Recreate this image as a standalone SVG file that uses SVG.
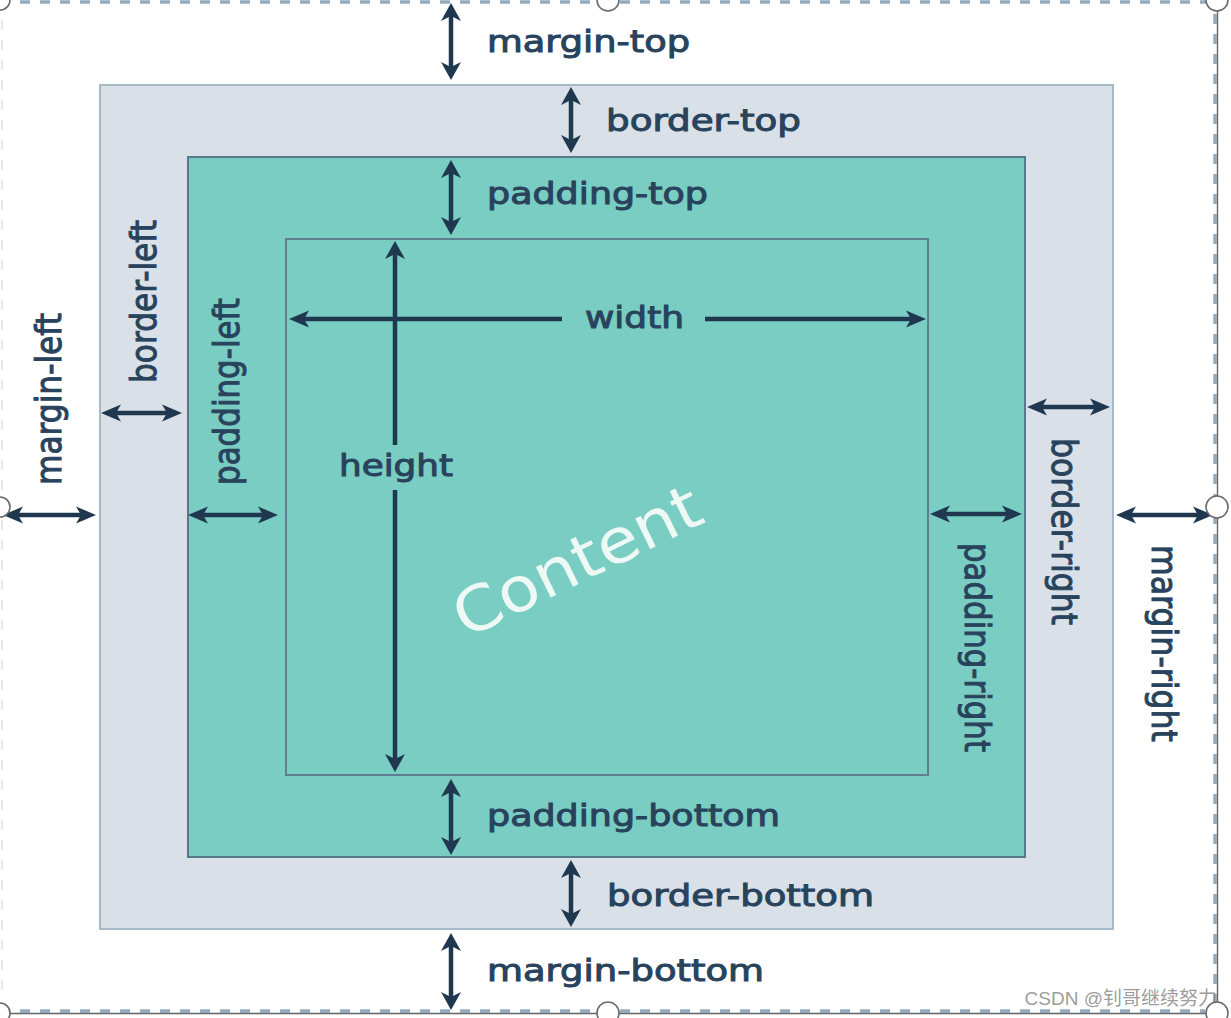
<svg xmlns="http://www.w3.org/2000/svg" width="1231" height="1018" viewBox="0 0 1231 1018">
<defs>
<style>
.lbl{font-family:"DejaVu Sans","Verdana",sans-serif;font-size:30px;fill:#29435c;stroke:#29435c;stroke-width:1px}
.vl{font-family:"DejaVu Sans","Verdana",sans-serif;font-size:35px;fill:#29435c;stroke:#29435c;stroke-width:1px}
.arr{stroke:#1f3850;stroke-width:4.5;fill:none}
.h{marker-start:url(#mh);marker-end:url(#mh)}
.v{marker-start:url(#mv);marker-end:url(#mv)}
.he{marker-end:url(#mh)}
.ve{marker-end:url(#mv)}
.handle{fill:#fff;stroke:#6a6a6a;stroke-width:1.6}
</style>
<marker id="mh" markerUnits="userSpaceOnUse" viewBox="-12 -10 24 20" markerWidth="24" markerHeight="20" refX="0" refY="0" orient="auto-start-reverse">
<path d="M10,0 L-10,-8.5 L-5,0 L-10,8.5 Z" fill="#1f3850"/>
</marker>
<marker id="mv" markerUnits="userSpaceOnUse" viewBox="-12 -12 24 24" markerWidth="24" markerHeight="24" refX="0" refY="0" orient="auto-start-reverse">
<path d="M9,0 L-9,-10 L-4,0 L-9,10 Z" fill="#1f3850"/>
</marker>
</defs>
<rect width="1231" height="1018" fill="#fff"/>

<g id="selection-frame">
<line x1="20" y1="2" x2="1212" y2="2" stroke="#93a9bc" stroke-width="3.5" stroke-dasharray="10 10"/>
<line x1="1215" y1="14" x2="1215" y2="1005" stroke="#93a9bc" stroke-width="3.5" stroke-dasharray="10 10"/>
<line x1="20" y1="1011" x2="1205" y2="1011" stroke="#93a9bc" stroke-width="3.5" stroke-dasharray="10 10"/>
<line x1="2" y1="20" x2="2" y2="1000" stroke="#e3e9ee" stroke-width="2" stroke-dasharray="10 10"/>
<line x1="1217.5" y1="8" x2="1217.5" y2="1013" stroke="#666" stroke-width="1.4"/>
<line x1="0" y1="1013.5" x2="1217" y2="1013.5" stroke="#666" stroke-width="1.4"/>
</g>

<g id="border-box">
<rect x="100" y="85" width="1013" height="844" fill="#d9e0e8" stroke="#a6b9c9" stroke-width="2"/>
</g>
<g id="padding-box">
<rect x="188" y="157" width="837" height="700" fill="#79cdc2" stroke="#557a8c" stroke-width="2"/>
</g>
<g id="content-box">
<rect x="286" y="239" width="642" height="536" fill="#79cdc2" stroke="#5f7f90" stroke-width="2"/>
<text x="466" y="639" transform="rotate(-26 466 639)" font-family="DejaVu Sans, Verdana, sans-serif" font-size="62" fill="#eef9f6" textLength="268" lengthAdjust="spacingAndGlyphs">Content</text>
</g>

<g id="connectors">
<line class="arr v" x1="451" y1="12" x2="451" y2="71"/>
<line class="arr v" x1="571" y1="96" x2="571" y2="144"/>
<line class="arr v" x1="451" y1="169" x2="451" y2="226"/>
<line class="arr ve" x1="395" y1="445" x2="395" y2="250"/>
<line class="arr ve" x1="395" y1="490" x2="395" y2="763"/>
<line class="arr v" x1="451" y1="788" x2="451" y2="846"/>
<line class="arr v" x1="571" y1="869" x2="571" y2="918"/>
<line class="arr v" x1="451" y1="942" x2="451" y2="1001"/>
<line class="arr he" x1="562" y1="319" x2="299" y2="319"/>
<line class="arr he" x1="705" y1="319" x2="916" y2="319"/>
<line class="arr h" x1="13" y1="515" x2="86" y2="515"/>
<line class="arr h" x1="111" y1="413" x2="172" y2="413"/>
<line class="arr h" x1="198" y1="515" x2="268" y2="515"/>
<line class="arr h" x1="940" y1="514" x2="1012" y2="514"/>
<line class="arr h" x1="1037" y1="407" x2="1100" y2="407"/>
<line class="arr h" x1="1126" y1="515" x2="1203" y2="515"/>
</g>

<g id="labels">
<text class="lbl" x="487" y="52" textLength="203" lengthAdjust="spacingAndGlyphs">margin-top</text>
<text class="lbl" x="606" y="131" textLength="195" lengthAdjust="spacingAndGlyphs">border-top</text>
<text class="lbl" x="487" y="204" textLength="221" lengthAdjust="spacingAndGlyphs">padding-top</text>
<text class="lbl" x="585" y="328" textLength="99" lengthAdjust="spacingAndGlyphs">width</text>
<text class="lbl" x="339" y="476" textLength="114" lengthAdjust="spacingAndGlyphs">height</text>
<text class="lbl" x="487" y="826" textLength="293" lengthAdjust="spacingAndGlyphs">padding-bottom</text>
<text class="lbl" x="607" y="906" textLength="267" lengthAdjust="spacingAndGlyphs">border-bottom</text>
<text class="lbl" x="487" y="981" textLength="277" lengthAdjust="spacingAndGlyphs">margin-bottom</text>
<text class="vl" transform="translate(61 485) rotate(-90)" textLength="172" lengthAdjust="spacingAndGlyphs">margin-left</text>
<text class="vl" transform="translate(156 383) rotate(-90)" textLength="163" lengthAdjust="spacingAndGlyphs">border-left</text>
<text class="vl" transform="translate(239 485) rotate(-90)" textLength="187" lengthAdjust="spacingAndGlyphs">padding-left</text>
<text class="vl" transform="translate(1052 438) rotate(90)" textLength="187" lengthAdjust="spacingAndGlyphs">border-right</text>
<text class="vl" transform="translate(965 543) rotate(90)" textLength="209" lengthAdjust="spacingAndGlyphs">padding-right</text>
<text class="vl" transform="translate(1152 545) rotate(90)" textLength="197" lengthAdjust="spacingAndGlyphs">margin-right</text>
</g>

<text x="1217" y="1005" text-anchor="end" font-family="Liberation Sans, Noto Sans CJK SC, sans-serif" font-size="19" fill="#8a8a8a" fill-opacity="0.85">CSDN @钊哥继续努力</text>

<g id="handles">
<circle class="handle" cx="0" cy="0" r="10"/>
<circle class="handle" cx="608" cy="0" r="11"/>
<circle class="handle" cx="1217" cy="0" r="11"/>
<circle class="handle" cx="0" cy="507" r="10"/>
<circle class="handle" cx="1217" cy="507" r="11"/>
<circle class="handle" cx="0" cy="1013" r="10"/>
<circle class="handle" cx="608" cy="1013" r="11"/>
<circle class="handle" cx="1217" cy="1013" r="11"/>
</g>
</svg>
